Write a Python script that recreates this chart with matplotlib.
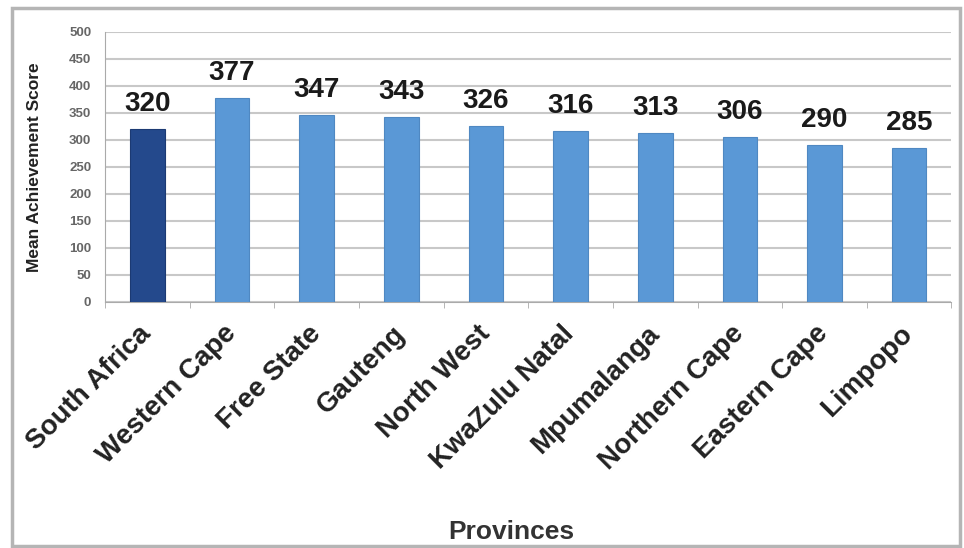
import numpy as np
import matplotlib.pyplot as plt
from matplotlib.patches import Rectangle

# Provincial mean achievement scores
provinces = ['South Africa', 'Western Cape', 'Free State', 'Gauteng', 'North West',
             'KwaZulu Natal', 'Mpumalanga', 'Northern Cape', 'Eastern Cape', 'Limpopo']
scores = [320, 377, 347, 343, 326, 316, 313, 306, 290, 285]
y_ticks = [0, 50, 100, 150, 200, 250, 300, 350, 400, 450, 500]

plt.rcParams['font.family'] = ['Liberation Sans', 'DejaVu Sans']

fig = plt.figure(figsize=(9.64, 5.48), dpi=100)
ax = fig.add_axes([0.109, 0.449, 0.878, 0.4927])

# Border round the whole chart
fig.patches.append(Rectangle((0.012, 0.004), 0.984, 0.982, transform=fig.transFigure,
                             fill=False, edgecolor='#b5b5b5', linewidth=2.5))

x = np.arange(len(provinces))
colors = ['#24498c'] + ['#5a98d6'] * (len(provinces) - 1)
edges = ['#1c3a73'] + ['#4f88c2'] * (len(provinces) - 1)
ax.bar(x, scores, width=0.41, color=colors, edgecolor=edges, linewidth=0.8, zorder=3)

for xi, s in zip(x, scores):
    ax.text(xi, s + 22, str(s), ha='center', va='bottom', fontsize=20,
            fontweight='bold', color='#1a1a1a')

ax.set_xlim(-0.5, len(provinces) - 0.5)
ax.set_ylim(0, 500)
ax.set_yticks(y_ticks)
ax.set_yticklabels([str(t) for t in y_ticks], fontsize=9.5, fontweight='bold', color='#666666')
ax.yaxis.grid(True, color='#c8c8c8', linewidth=1.5, zorder=0)
ax.set_axisbelow(True)

ax.set_xticks(x)
ax.set_xticklabels(provinces, rotation=45, ha='right', va='center', rotation_mode='anchor',
                   fontsize=20, fontweight='bold', color='#222222')
ax.set_xticks(np.arange(-0.5, len(provinces)), minor=True)
ax.tick_params(axis='x', which='major', length=0, pad=20)
ax.tick_params(axis='x', which='minor', length=4, color='#aaaaaa')
ax.tick_params(axis='y', length=0, pad=10)

for side in ['top', 'right']:
    ax.spines[side].set_visible(False)
ax.spines['left'].set_color('#aaaaaa')
ax.spines['bottom'].set_color('#aaaaaa')

ax.set_ylabel('Mean Achievement Score', fontsize=12.5, fontweight='bold', color='#222222')
ax.yaxis.set_label_coords(-0.075, 0.5)
fig.text(0.53, 0.029, 'Provinces', ha='center', va='center', fontsize=19,
         fontweight='bold', color='#333333')

plt.savefig('out.png', dpi=100)
